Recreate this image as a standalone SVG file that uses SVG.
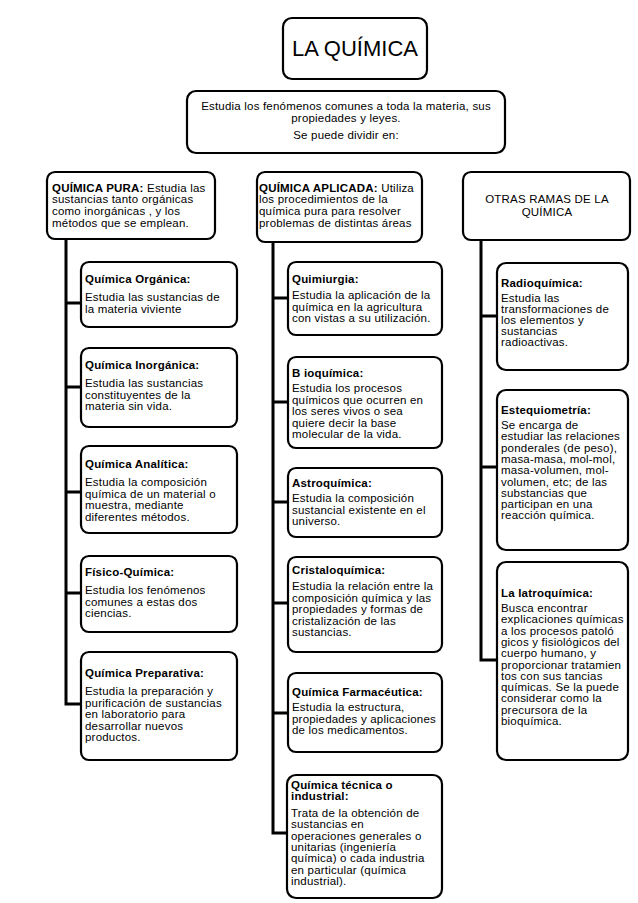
<svg xmlns="http://www.w3.org/2000/svg" width="638" height="903" viewBox="0 0 638 903">
<style>
  .box { fill: #fff; stroke: #000; stroke-width: 2.2; }
  text { font-family: "Liberation Sans", Arial, sans-serif; font-size: 11.5px; letter-spacing: 0.2px; fill: #000; }
  .b { font-weight: bold; }
  .title { font-size: 22px; letter-spacing: 0; }
  .conn { fill: none; stroke: #000; stroke-width: 3; }
</style>
<rect width="638" height="903" fill="#fff"/>
<g id="connectors">
  <path class="conn" d="M66 239 V704 H81 M66 303 H81 M66 387 H81 M66 492 H81 M66 593 H81"/>
  <path class="conn" d="M273 242 V833 H288 M273 298 H288 M273 402 H288 M273 502 H288 M273 603 H288 M273 713 H288"/>
  <path class="conn" d="M481 240 V660 H497 M481 316 H497 M481 467 H497"/>
</g>
<g id="la-quimica">
  <rect class="box" x="283" y="18" width="144" height="61" rx="9"/>
  <text class="title" x="355" y="56" text-anchor="middle">LA QUÍMICA</text>
</g>
<g id="estudia">
  <rect class="box" x="187" y="91" width="318" height="62" rx="9"/>
  <text x="346" y="110" text-anchor="middle">Estudia los fenómenos comunes a toda la materia, sus</text>
  <text x="346" y="122" text-anchor="middle">propiedades y leyes.</text>
  <text x="346" y="139" text-anchor="middle">Se puede dividir en:</text>
</g>
<g id="quimica-pura">
  <rect class="box" x="47" y="172" width="168" height="67" rx="8"/>
  <text x="52" y="192"><tspan class="b">QUÍMICA PURA:</tspan> Estudia las</text>
  <text x="52" y="203">sustancias tanto orgánicas</text>
  <text x="52" y="215">como inorgánicas , y los</text>
  <text x="52" y="227">métodos que se emplean.</text>
</g>
<g id="quimica-aplicada">
  <rect class="box" x="257" y="172" width="165" height="70" rx="8"/>
  <text x="259" y="192"><tspan class="b">QUÍMICA APLICADA:</tspan>  Utiliza</text>
  <text x="259" y="203">los procedimientos de la</text>
  <text x="259" y="215">química pura para resolver</text>
  <text x="259" y="227">problemas de distintas áreas</text>
</g>
<g id="otras-ramas">
  <rect class="box" x="463" y="172" width="167" height="68" rx="8"/>
  <text x="547" y="203" text-anchor="middle">OTRAS RAMAS  DE LA</text>
  <text x="547" y="216" text-anchor="middle">QUÍMICA</text>
</g>
<g id="organica">
  <rect class="box" x="81" y="262" width="156" height="65" rx="8"/>
  <text class="b" x="85" y="283">Química Orgánica:</text>
  <text x="85" y="301">Estudia las sustancias de</text>
  <text x="85" y="312.5">la materia viviente</text>
</g>
<g id="inorganica">
  <rect class="box" x="81" y="348" width="156" height="79" rx="8"/>
  <text class="b" x="85" y="369">Química Inorgánica:</text>
  <text x="85" y="387">Estudia las sustancias</text>
  <text x="85" y="398.5">constituyentes de la</text>
  <text x="85" y="410">materia sin vida.</text>
</g>
<g id="analitica">
  <rect class="box" x="81" y="446" width="156" height="87" rx="8"/>
  <text class="b" x="85" y="468">Química Analítica:</text>
  <text x="85" y="486">Estudia la composición</text>
  <text x="85" y="497.5">química de un material o</text>
  <text x="85" y="509">muestra, mediante</text>
  <text x="85" y="520.5">diferentes métodos.</text>
</g>
<g id="fisico-quimica">
  <rect class="box" x="81" y="556" width="156" height="76" rx="8"/>
  <text class="b" x="85" y="576">Físico-Química:</text>
  <text x="85" y="594">Estudia los fenómenos</text>
  <text x="85" y="605.5">comunes a estas dos</text>
  <text x="85" y="617">ciencias.</text>
</g>
<g id="preparativa">
  <rect class="box" x="81" y="652" width="156" height="108" rx="8"/>
  <text class="b" x="85" y="677">Química Preparativa:</text>
  <text x="85" y="695">Estudia la preparación y</text>
  <text x="85" y="706.5">purificación de sustancias</text>
  <text x="85" y="718">en laboratorio para</text>
  <text x="85" y="729.5">desarrollar nuevos</text>
  <text x="85" y="741">productos.</text>
</g>
<g id="quimiurgia">
  <rect class="box" x="288" y="262" width="154" height="73" rx="8"/>
  <text class="b" x="292" y="283">Quimiurgia:</text>
  <text x="292" y="299">Estudia la aplicación de la</text>
  <text x="292" y="310.5">química en la agricultura</text>
  <text x="292" y="322">con vistas a su utilización.</text>
</g>
<g id="bioquimica">
  <rect class="box" x="288" y="357" width="154" height="91" rx="8"/>
  <text class="b" x="292" y="377">B ioquímica:</text>
  <text x="292" y="392">Estudia los procesos</text>
  <text x="292" y="403.5">químicos que ocurren en</text>
  <text x="292" y="415">los seres vivos o sea</text>
  <text x="292" y="426.5">quiere decir la base</text>
  <text x="292" y="438">molecular de la vida.</text>
</g>
<g id="astroquimica">
  <rect class="box" x="288" y="468" width="154" height="69" rx="8"/>
  <text class="b" x="292" y="487">Astroquímica:</text>
  <text x="292" y="502">Estudia la composición</text>
  <text x="292" y="513.5">sustancial existente en el</text>
  <text x="292" y="525">universo.</text>
</g>
<g id="cristaloquimica">
  <rect class="box" x="288" y="557" width="154" height="95" rx="8"/>
  <text class="b" x="292" y="574">Cristaloquímica:</text>
  <text x="292" y="590">Estudia  la relación entre la</text>
  <text x="292" y="601.5">composición química y las</text>
  <text x="292" y="613">propiedades  y formas de</text>
  <text x="292" y="624.5">cristalización de las</text>
  <text x="292" y="636">sustancias.</text>
</g>
<g id="farmaceutica">
  <rect class="box" x="288" y="673" width="154" height="79" rx="8"/>
  <text class="b" x="292" y="696">Química Farmacéutica:</text>
  <text x="292" y="711">Estudia la estructura,</text>
  <text x="292" y="722.5">propiedades y aplicaciones</text>
  <text x="292" y="734">de los medicamentos.</text>
</g>
<g id="tecnica">
  <rect class="box" x="287" y="775" width="155" height="123" rx="9"/>
  <text class="b" x="291" y="789">Química técnica o</text>
  <text class="b" x="291" y="800">industrial:</text>
  <text x="291" y="817">Trata de la obtención de</text>
  <text x="291" y="828.3">sustancias  en</text>
  <text x="291" y="839.6">operaciones generales o</text>
  <text x="291" y="850.9">unitarias (ingeniería</text>
  <text x="291" y="862.2">química) o cada industria</text>
  <text x="291" y="873.5">en particular (química</text>
  <text x="291" y="884.8">industrial).</text>
</g>
<g id="radioquimica">
  <rect class="box" x="497" y="263" width="131" height="107" rx="9"/>
  <text class="b" x="501" y="287">Radioquímica:</text>
  <text x="501" y="302">Estudia las</text>
  <text x="501" y="313">transformaciones de</text>
  <text x="501" y="324">los elementos y</text>
  <text x="501" y="335">sustancias</text>
  <text x="501" y="346">radioactivas.</text>
</g>
<g id="estequiometria">
  <rect class="box" x="497" y="390" width="131" height="160" rx="9"/>
  <text class="b" x="501" y="414">Estequiometría:</text>
  <text x="501" y="429">Se encarga de</text>
  <text x="501" y="440.3">estudiar las relaciones</text>
  <text x="501" y="451.6">ponderales (de peso),</text>
  <text x="501" y="462.9">masa-masa, mol-mol,</text>
  <text x="501" y="474.2">masa-volumen, mol-</text>
  <text x="501" y="485.5">volumen, etc; de las</text>
  <text x="501" y="496.8">substancias que</text>
  <text x="501" y="508.1">participan en una</text>
  <text x="501" y="519.4">reacción química.</text>
</g>
<g id="iatroquimica">
  <rect class="box" x="497" y="562" width="131" height="198" rx="9"/>
  <text class="b" x="501" y="597">La latroquímica:</text>
  <text x="501" y="612">Busca encontrar</text>
  <text x="501" y="623.3">explicaciones químicas</text>
  <text x="501" y="634.6">a los procesos patoló</text>
  <text x="501" y="645.9">gicos y fisiológicos del</text>
  <text x="501" y="657.2">cuerpo humano, y</text>
  <text x="501" y="668.5">proporcionar tratamien</text>
  <text x="501" y="679.8">tos con sus tancias</text>
  <text x="501" y="691.1">químicas. Se la puede</text>
  <text x="501" y="702.4">considerar como la</text>
  <text x="501" y="713.7">precursora de la</text>
  <text x="501" y="725">bioquímica.</text>
</g>
</svg>
